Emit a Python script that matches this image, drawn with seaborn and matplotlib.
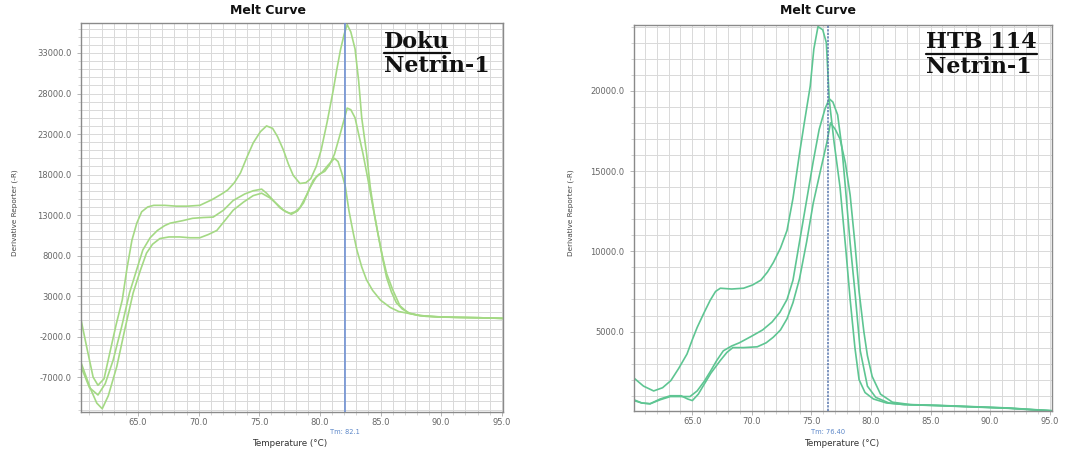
import numpy as np
import pandas as pd
import matplotlib
matplotlib.use("Agg")
import matplotlib.pyplot as plt
import seaborn as sns
from matplotlib.lines import Line2D

# ---------------- data ----------------
# Left panel: Doku / Netrin-1 (three replicate melt curves)
doku_a_x = [60.3, 60.8, 61.3, 61.7, 62.2, 62.75, 63.2, 63.7, 64.1, 64.5, 64.9, 65.3, 65.8, 66.3, 67.2, 68.15,
            69.1, 70.1, 71.1, 71.9, 72.4, 72.95, 73.45, 74.0, 74.5, 75.1, 75.6, 76.1, 76.5, 77.0, 77.4, 77.8,
            78.35, 78.85, 79.25, 79.7, 80.1, 80.6, 81.1, 81.4, 81.7, 82.0, 82.25, 82.55, 82.9, 83.2, 83.45,
            83.85, 84.15, 84.45, 84.75, 85.15, 85.5, 86.0, 86.6, 87.3, 88.0, 88.75, 89.7, 91.2, 93.15, 95.1]
doku_a_y = [100, -3500, -7000, -8000, -7200, -3500, -500, 2500, 6500, 9900, 12000, 13400, 14000, 14200, 14200, 14100,
            14100, 14200, 14900, 15600, 16100, 17000, 18200, 20200, 21900, 23300, 24000, 23700, 22700, 21000, 19300, 17900,
            16900, 17000, 17500, 19000, 21000, 24500, 28400, 31000, 33400, 35300, 36500, 35600, 33500, 29500, 25000,
            20600, 16500, 13500, 11000, 8000, 5800, 3800, 1800, 900, 650, 500, 420, 380, 330, 250]

doku_b_x = [60.3, 61.0, 61.7, 62.3, 62.95, 63.65, 64.3, 64.9, 65.4, 66.0, 66.6, 67.2, 67.65, 68.65, 69.5, 70.4,
            71.2, 72.05, 72.85, 73.8, 74.5, 75.2, 75.6, 76.1, 76.7, 77.2, 77.55, 77.95, 78.35, 78.95, 79.45, 79.9,
            80.4, 80.8, 81.2, 81.6, 82.0, 82.25, 82.55, 82.9, 83.15, 83.55, 83.95, 84.35, 84.75, 85.15, 85.5,
            85.9, 86.3, 86.8, 87.4, 88.25, 89.7, 91.2, 93.15, 95.1]
doku_b_y = [-5700, -8300, -9200, -7800, -4900, -800, 3400, 6300, 8700, 10200, 11100, 11700, 12000, 12300, 12600, 12700,
            12750, 13600, 14800, 15600, 16000, 16200, 15700, 14900, 13900, 13400, 13200, 13400, 13900, 15600, 17300, 18000,
            18400, 19200, 20500, 22600, 24800, 26200, 26000, 25000, 23300, 20600, 17500, 14200, 11000, 7800, 5300,
            3500, 2200, 1400, 900, 600, 450, 380, 330, 250]

doku_c_x = [60.3, 61.1, 61.6, 62.05, 62.55, 63.25, 63.9, 64.6, 65.2, 65.7, 66.2, 66.8, 67.55, 68.45, 69.3, 70.1,
            70.8, 71.5, 72.15, 72.85, 73.7, 74.5, 75.2, 75.9, 76.5, 77.0, 77.65, 78.15, 78.65, 79.15, 79.7, 80.2,
            80.7, 81.2, 81.5, 81.8, 82.1, 82.4, 82.75, 83.05, 83.45, 83.85, 84.35, 85.0, 85.8, 86.5, 87.2, 88.25,
            89.7, 91.2, 93.15, 95.1]
doku_c_y = [-5200, -8500, -10200, -10900, -9300, -5700, -1200, 3400, 6200, 8300, 9400, 10100, 10300, 10300, 10200, 10200,
            10600, 11100, 12300, 13600, 14600, 15400, 15700, 15100, 14300, 13600, 13100, 13500, 14500, 16300, 17700, 18300,
            19200, 20000, 19600, 18200, 16500, 13500, 10800, 8700, 6600, 5000, 3700, 2500, 1600, 1100, 900, 600,
            450, 380, 330, 250]

# Right panel: HTB 114 / Netrin-1
htb_p_x = [60.1, 60.9, 61.75, 62.5, 63.2, 63.85, 64.55, 65.0, 65.4, 66.0, 66.5, 66.95, 67.35, 68.3, 69.3, 70.05,
           70.75, 71.3, 71.8, 72.4, 72.95, 73.45, 74.0, 74.4, 74.9, 75.2, 75.55, 75.95, 76.25, 76.5, 76.9, 77.4,
           77.9, 78.25, 78.65, 79.0, 79.5, 80.2, 81.3, 82.8, 85.7, 88.6, 91.5, 93.4, 95.2]
htb_p_y = [2100, 1600, 1300, 1500, 1950, 2700, 3600, 4500, 5250, 6200, 6950, 7500, 7700, 7650, 7700, 7900,
           8200, 8700, 9300, 10200, 11300, 13300, 16100, 18000, 20300, 22600, 24000, 23800, 23000, 19400, 16800, 14000,
           10000, 7000, 4000, 2000, 1200, 800, 550, 450, 380, 300, 220, 130, 60]

htb_q_x = [60.1, 60.75, 61.45, 62.3, 63.15, 63.95, 64.8, 65.4, 66.0, 66.5, 67.05, 67.6, 68.3, 68.95, 69.95, 70.9,
           71.7, 72.35, 72.95, 73.45, 74.0, 74.6, 75.15, 75.65, 76.15, 76.5, 76.8, 77.2, 77.55, 77.85, 78.25, 78.65,
           79.1, 79.7, 80.4, 81.5, 82.8, 85.7, 88.6, 91.5, 93.4, 95.2]
htb_q_y = [700, 550, 500, 750, 950, 950, 950, 1300, 1900, 2500, 3200, 3800, 4100, 4300, 4700, 5100,
           5600, 6200, 7000, 8200, 10600, 13200, 15600, 17600, 18900, 19500, 19300, 18500, 16500, 14000, 10500, 7500,
           3800, 1600, 900, 550, 450, 390, 310, 230, 140, 60]

htb_r_x = [60.1, 60.75, 61.45, 62.3, 63.15, 64.05, 64.6, 65.0, 65.5, 65.9, 66.55, 67.35, 67.9, 68.4, 69.3, 70.45,
           71.2, 71.8, 72.4, 72.95, 73.45, 74.0, 74.6, 75.15, 75.75, 76.3, 76.6, 77.0, 77.4, 77.85, 78.25, 78.65,
           79.0, 79.4, 79.7, 80.1, 80.8, 81.8, 83.3, 85.7, 88.6, 91.5, 93.4, 95.2]
htb_r_y = [750, 550, 500, 800, 1000, 1000, 800, 700, 1100, 1600, 2400, 3200, 3700, 4000, 4000, 4050,
           4300, 4650, 5100, 5800, 6800, 8300, 10600, 13000, 15000, 16800, 18000, 17600, 17000, 15500, 13500, 10500,
           7500, 5000, 3500, 2200, 1100, 600, 450, 400, 320, 240, 150, 70]

x_ticks = [65, 70, 75, 80, 85, 90, 95]
x_tick_labels = ["65.0", "70.0", "75.0", "80.0", "85.0", "90.0", "95.0"]
left_y_ticks = [-7000, -2000, 3000, 8000, 13000, 18000, 23000, 28000, 33000]
right_y_ticks = [5000, 10000, 15000, 20000]
tm_left, tm_right = 82.1, 76.40

# ---------------- figure ----------------
sns.set_style("white")
plt.rcParams['font.family'] = ['DejaVu Sans']

W, H = 1067, 450
fig = plt.figure(figsize=(W / 100, H / 100), dpi=100)
fig.patch.set_facecolor("white")


def fx(px):
    return px / W


def fy(py):
    return 1 - py / H


axL = fig.add_axes([fx(81), fy(412), fx(503) - fx(81), fy(23) - fy(412)])
axR = fig.add_axes([fx(634), fy(411), fx(1052) - fx(634), fy(25) - fy(411)])

left_color = "#a4d984"
right_color = "#5ec592"


def draw_curves(ax, curves, color):
    frames = []
    for i, (xs, ys) in enumerate(curves):
        frames.append(pd.DataFrame({"T": xs, "D": ys, "well": f"w{i}"}))
    df = pd.concat(frames, ignore_index=True)
    sns.lineplot(data=df, x="T", y="D", units="well", estimator=None, sort=False,
                 color=color, lw=1.2, ax=ax, legend=False)


draw_curves(axL, [(doku_a_x, doku_a_y), (doku_b_x, doku_b_y), (doku_c_x, doku_c_y)], left_color)
draw_curves(axR, [(htb_p_x, htb_p_y), (htb_q_x, htb_q_y), (htb_r_x, htb_r_y)], right_color)

axL.set_xlim(60.3, 95.1)
axL.set_ylim(-11300, 36700)
axR.set_xlim(60.1, 95.2)
axR.set_ylim(50, 24100)

for ax, yt, ymin, ymax in [(axL, left_y_ticks, -11000, 36000), (axR, right_y_ticks, 1000, 24000)]:
    ax.set_xticks(x_ticks)
    ax.set_xticklabels(x_tick_labels)
    ax.set_xticks(np.arange(61, 96, 1), minor=True)
    ax.set_yticks(yt)
    ax.set_yticklabels([f"{v:.1f}" for v in yt])
    ax.set_yticks(np.arange(ymin, ymax + 1, 1000), minor=True)
    ax.grid(which="both", color="#d9d9d9", lw=0.7)
    ax.set_axisbelow(True)
    ax.tick_params(which="major", length=3, width=0.6, color="#aaaaaa", labelsize=6,
                   labelcolor="#666666", pad=4, left=True, bottom=True)
    ax.tick_params(axis="x", which="major", pad=1.5)
    ax.tick_params(which="minor", length=2, width=0.5, color="#c4c4c4", left=True, bottom=True)
    for s in ax.spines.values():
        s.set_color("#8a8a8a")
        s.set_linewidth(1.0)
    ax.set_xlabel("")
    ax.set_ylabel("")

axL.axvline(tm_left, color="#6f90d2", lw=1.2, zorder=3)
axR.axvline(tm_right, color="#5876ad", lw=1.1, ls=(0, (1.5, 0.8)), zorder=3)

# Titles and labels
fig.text(fx(268), fy(10), "Melt Curve", ha="center", va="center", fontsize=9, fontweight="bold", color="#111111")
fig.text(fx(818), fy(11), "Melt Curve", ha="center", va="center", fontsize=9, fontweight="bold", color="#111111")
fig.text(fx(290), fy(443), "Temperature (°C)", ha="center", va="center", fontsize=6.3, color="#333333")
fig.text(fx(842), fy(444), "Temperature (°C)", ha="center", va="center", fontsize=6.3, color="#333333")
fig.text(fx(15), fy(213), "Derivative Reporter (-R)", ha="center", va="center", rotation=90, fontsize=5.2, color="#444444")
fig.text(fx(571), fy(213), "Derivative Reporter (-R)", ha="center", va="center", rotation=90, fontsize=5.2, color="#444444")

# Tm labels below axes (below the tick labels)
fig.text(axL.transData.transform((tm_left, 0))[0] / W, fy(432), f"Tm: {tm_left:.1f}", ha="center", va="center",
         fontsize=4.8, color="#5b86c8")
fig.text(axR.transData.transform((tm_right, 0))[0] / W, fy(432), f"Tm: {tm_right:.2f}", ha="center", va="center",
         fontsize=4.8, color="#5b86c8")

# Sample annotations
ann_kw = dict(fontsize=16, fontweight="bold", family="DejaVu Serif", color="#111111", ha="left", va="baseline")
t1 = fig.text(fx(384), fy(48), "Doku", **ann_kw)
fig.text(fx(384), fy(72), "Netrin-1", **ann_kw)
t2 = fig.text(fx(926), fy(48), "HTB 114", **ann_kw)
fig.text(fx(926), fy(73), "Netrin-1", **ann_kw)

fig.canvas.draw()
renderer = fig.canvas.get_renderer()
for t, py in [(t1, 52.5), (t2, 53.5)]:
    bb = t.get_window_extent(renderer)
    fig.add_artist(Line2D([bb.x0 / W, bb.x1 / W], [fy(py), fy(py)], transform=fig.transFigure,
                          color="#111111", lw=1.6))

fig.savefig("out.png", dpi=100, facecolor="white")
